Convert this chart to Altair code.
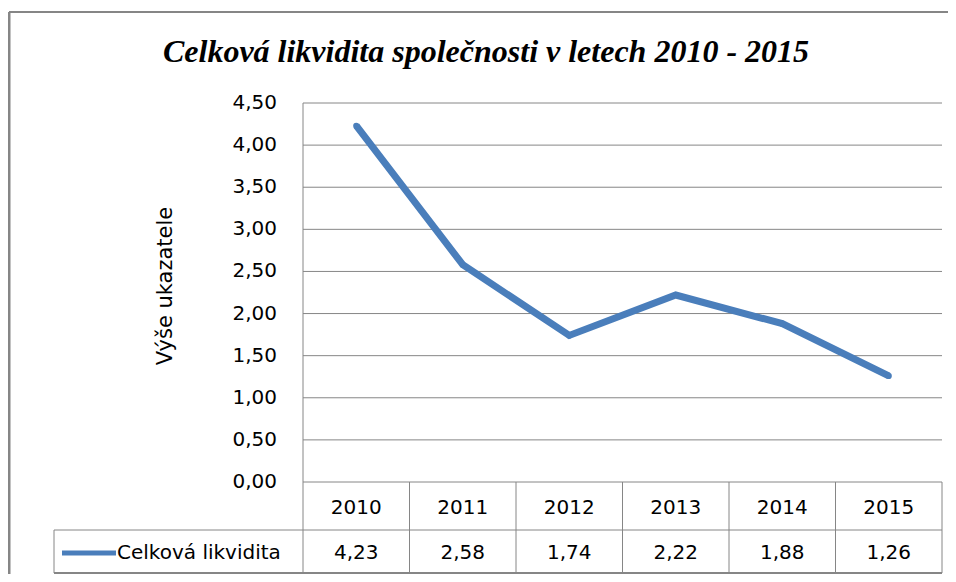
import altair as alt
import pandas as pd

years = [2010, 2011, 2012, 2013, 2014, 2015]
values = [4.23, 2.58, 1.74, 2.22, 1.88, 1.26]
series_name = "Celková likvidita"
title_text = "Celková likvidita společnosti v letech 2010 - 2015"
y_title = "Výše ukazatele"
y_ticks = [0.0, 0.5, 1.0, 1.5, 2.0, 2.5, 3.0, 3.5, 4.0, 4.5]

W, H = 639, 379
BLUE = "#4A7EBB"
GRID = "#868686"
FONT = "DejaVu Sans"
FS = 20

df = pd.DataFrame({
    "year": years,
    "value": values,
    "label": [f"{v:.2f}".replace(".", ",") for v in values],
    "ylabel": [str(y) for y in years],
})
ticks_df = pd.DataFrame({
    "t": y_ticks,
    "tl": [f"{t:.2f}".replace(".", ",") for t in y_ticks],
})
bounds = pd.DataFrame({"b": [years[0] - 0.5] + [y + 0.5 for y in years]})
one = pd.DataFrame({"title": [title_text], "ytitle": [y_title], "series": [series_name]})

xscale = alt.Scale(domain=[years[0] - 0.5, years[-1] + 0.5], nice=False, zero=False)
yscale = alt.Scale(domain=[0, 4.5], nice=False, zero=True)

X = lambda f: alt.X(f, scale=xscale, axis=None)
Y = lambda f: alt.Y(f, scale=yscale, axis=None)

ROW1 = 48      # header row height below plot
ROW2 = 91      # bottom of table below plot
LEG_X = 54 - 303

grid = alt.Chart(ticks_df).mark_rule(color=GRID, strokeWidth=1).encode(
    y=Y("t:Q"), x=alt.value(0), x2=alt.value(W)
)
yaxis_line = alt.Chart(one).mark_rule(color=GRID, strokeWidth=1).encode(
    x=alt.value(0), y=alt.value(0), y2=alt.value(H)
)
ylabels = alt.Chart(ticks_df).mark_text(
    font=FONT, fontSize=FS, color="#000000", align="right", baseline="middle"
).encode(y=Y("t:Q"), x=alt.value(-26), text="tl:N")

line = alt.Chart(df).mark_line(color=BLUE, strokeWidth=7).encode(
    x=X("year:Q"), y=Y("value:Q")
)
caps = alt.Chart(df).mark_point(filled=True, shape="circle", size=38, color=BLUE, opacity=1).encode(
    x=X("year:Q"), y=Y("value:Q")
)

vrules = alt.Chart(bounds).mark_rule(color=GRID, strokeWidth=1).encode(
    x=X("b:Q"), y=alt.value(H), y2=alt.value(H + ROW2)
)
hrule1 = alt.Chart(one).mark_rule(color=GRID, strokeWidth=1).encode(
    x=alt.value(LEG_X), x2=alt.value(W), y=alt.value(H + ROW1)
)
hrule2 = alt.Chart(one).mark_rule(color=GRID, strokeWidth=2).encode(
    x=alt.value(LEG_X), x2=alt.value(W), y=alt.value(H + ROW2)
)
lrule = alt.Chart(one).mark_rule(color=GRID, strokeWidth=1).encode(
    x=alt.value(LEG_X), y=alt.value(H + ROW1), y2=alt.value(H + ROW2)
)
year_txt = alt.Chart(df).mark_text(font=FONT, fontSize=FS, color="#000000", baseline="middle").encode(
    x=X("year:Q"), y=alt.value(H + 26), text="ylabel:N"
)
val_txt = alt.Chart(df).mark_text(font=FONT, fontSize=FS, color="#000000", baseline="middle").encode(
    x=X("year:Q"), y=alt.value(H + 71), text="label:N"
)
leg_line = alt.Chart(one).mark_rule(color=BLUE, strokeWidth=5).encode(
    x=alt.value(62 - 303), x2=alt.value(116 - 303), y=alt.value(H + 71)
)
leg_txt = alt.Chart(one).mark_text(
    font=FONT, fontSize=FS, color="#000000", align="left", baseline="middle"
).encode(x=alt.value(117 - 303), y=alt.value(H + 71), text="series:N")

frame_top = alt.Chart(one).mark_rule(color=GRID, strokeWidth=2).encode(
    x=alt.value(-294), x2=alt.value(660), y=alt.value(-91)
)
frame_left = alt.Chart(one).mark_rule(color=GRID, strokeWidth=3).encode(
    x=alt.value(-294), y=alt.value(-91), y2=alt.value(H + 110)
)

title = alt.Chart(one).mark_text(
    font="Liberation Serif", fontSize=32, fontStyle="italic", fontWeight="bold",
    color="#000000", align="center", baseline="middle"
).encode(x=alt.value(183), y=alt.value(-51), text="title:N")

ytitle = alt.Chart(one).mark_text(
    font=FONT, fontSize=21, color="#000000", align="center", baseline="middle", angle=270
).encode(x=alt.value(-137), y=alt.value(183), text="ytitle:N")

chart = alt.layer(
    grid, yaxis_line, ylabels, vrules, hrule1, hrule2, lrule, year_txt, val_txt,
    leg_line, leg_txt, frame_top, frame_left, title, ytitle, line, caps
).properties(
    width=W, height=H,
    autosize=alt.AutoSizeParams(type="none"),
    padding={"left": 295, "top": 95, "right": 6, "bottom": 92},
).configure_view(stroke=None)

chart.save("out.html", embed_options={"renderer": "svg", "actions": False})
